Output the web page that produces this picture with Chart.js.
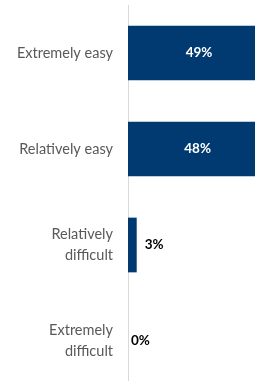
<!DOCTYPE html>
<html><head><meta charset="utf-8">
<script src="https://cdn.jsdelivr.net/npm/chart.js@4"></script>
<style>
html,body{margin:0;padding:0;overflow:hidden;background:#fff;width:255px;height:381px;}
#wrap{position:absolute;left:0;top:0;width:302px;height:389px;}
</style></head><body>
<div id="wrap"><canvas id="c" width="302" height="389"></canvas></div>
<script>
const categories = [["Extremely easy"], ["Relatively easy"], ["Relatively", "difficult"], ["Extremely", "difficult"]];
const values = [49, 48, 3, 0];
const valueLabels = ["49%", "48%", "3%", "0%"];

const labelPlugin = {
  id: 'valueLabels',
  afterDatasetsDraw(chart) {
    const ctx = chart.ctx;
    const meta = chart.getDatasetMeta(0);
    ctx.save();
    ctx.font = "bold 13.5px Lato";
    ctx.textBaseline = "middle";
    meta.data.forEach((bar, i) => {
      const w = bar.x - bar.base;
      if (w > 40) {
        ctx.fillStyle = "#ffffff";
        ctx.textAlign = "center";
        ctx.fillText(valueLabels[i], (bar.x + bar.base) / 2, bar.y);
      } else {
        ctx.fillStyle = "#000000";
        ctx.textAlign = "left";
        ctx.fillText(valueLabels[i], bar.x + (w > 0 ? 8 : 3), bar.y);
      }
    });
    ctx.restore();
  }
};

new Chart(document.getElementById('c'), {
  type: 'bar',
  data: {
    labels: categories,
    datasets: [{
      data: values,
      backgroundColor: '#003a70',
      categoryPercentage: 1,
      barPercentage: 0.57
    }]
  },
  options: {
    indexAxis: 'y',
    responsive: false,
    animation: false,
    layout: { padding: { top: 5, right: 0, bottom: 0, left: 0 } },
    plugins: { legend: { display: false }, tooltip: { enabled: false } },
    scales: {
      x: { display: false, min: 0, max: 60 },
      y: {
        afterFit(scale) { scale.width = 128; scale.paddingTop = 0; scale.paddingBottom = 0; },
        grid: { display: false, drawTicks: false },
        border: { display: true, color: '#d9d9d9', width: 1 },
        ticks: {
          padding: 15,
          color: '#595959',
          font: { family: 'Lato', size: 14.5, lineHeight: 1.45 }
        }
      }
    }
  },
  plugins: [labelPlugin]
});
</script>
</body></html>
